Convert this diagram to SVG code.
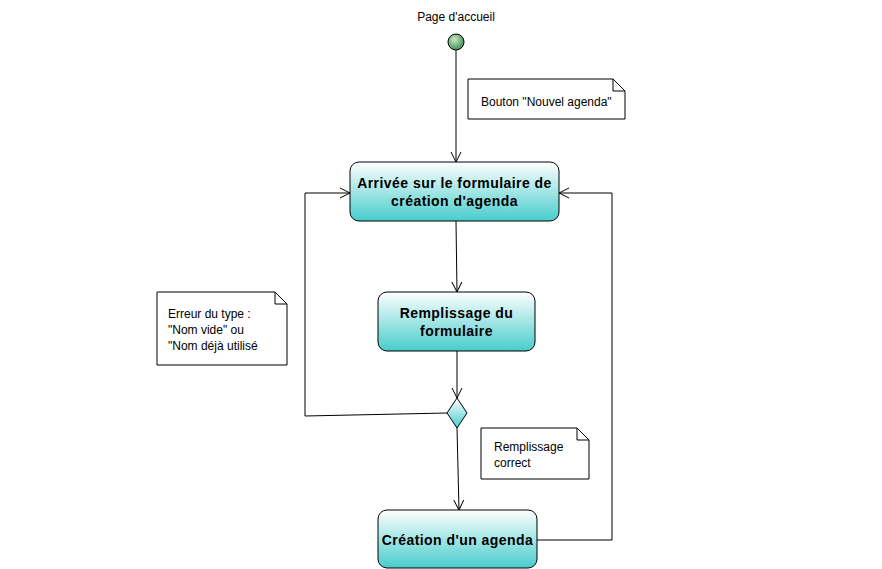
<svg xmlns="http://www.w3.org/2000/svg" width="882" height="569" viewBox="0 0 882 569">
<defs>
<linearGradient id="g" x1="0" y1="0" x2="0" y2="1">
<stop offset="0" stop-color="#ffffff"/>
<stop offset="1" stop-color="#48cccc"/>
</linearGradient>
<radialGradient id="gi" cx="0.4" cy="0.35" r="0.7">
<stop offset="0" stop-color="#c8e8c8"/>
<stop offset="1" stop-color="#3c8a50"/>
</radialGradient>
<marker id="arr" markerWidth="12" markerHeight="12" refX="10" refY="6" orient="auto" markerUnits="userSpaceOnUse">
<path d="M0,1 L10,6 L0,11" fill="none" stroke="#000" stroke-width="1"/>
</marker>
</defs>
<style>
.act{fill:url(#g);stroke:#000;stroke-width:1}
.at{font-family:"Liberation Sans",Arial,sans-serif;font-size:14px;font-weight:bold;letter-spacing:0.45px;text-anchor:middle;fill:#000}
.note{fill:#fff;stroke:#000;stroke-width:1}
.nt{font-family:"Liberation Sans",Arial,sans-serif;font-size:12px;fill:#000}
.c{fill:none;stroke:#000;stroke-width:1}
</style>
<rect width="882" height="569" fill="#fff"/>
<g id="start">
<text class="nt" x="456" y="21" text-anchor="middle">Page d'accueil</text>
<circle cx="456" cy="42" r="8" fill="url(#gi)" stroke="#000"/>
</g>
<g id="connectors">
<path class="c" d="M456,50 L456,162" marker-end="url(#arr)"/>
<path class="c" d="M456,221 L457,292" marker-end="url(#arr)"/>
<path class="c" d="M457,351 L457,398" marker-end="url(#arr)"/>
<path class="c" d="M447,413 L305,416 L305,193 L350,193" marker-end="url(#arr)"/>
<path class="c" d="M457,428 L459,510" marker-end="url(#arr)"/>
<path class="c" d="M537,540 L612,540 L612,193 L559,193" marker-end="url(#arr)"/>
</g>
<g id="n1">
<rect class="act" x="350" y="162" width="209" height="59" rx="9"/>
<text class="at" x="454.5" y="188">Arrivée sur le formulaire de</text>
<text class="at" x="454.5" y="206">création d'agenda</text>
</g>
<g id="n2">
<rect class="act" x="378" y="292" width="157" height="59" rx="9"/>
<text class="at" x="456.5" y="318">Remplissage du</text>
<text class="at" x="456.5" y="336">formulaire</text>
</g>
<g id="decision">
<path d="M457,398 L467,413 L457,428 L447,413 Z" fill="url(#g)" stroke="#000"/>
</g>
<g id="n3">
<rect class="act" x="378" y="510" width="159" height="58" rx="9"/>
<text class="at" x="457.5" y="545">Création d'un agenda</text>
</g>
<g id="note1">
<path class="note" d="M468,79 L613,79 L625,91 L625,119 L468,119 Z"/>
<path class="c" d="M613,79 L613,91 L625,91"/>
<text class="nt" x="481" y="106">Bouton "Nouvel agenda"</text>
</g>
<g id="note2">
<path class="note" d="M157,292 L275,292 L287,304 L287,365 L157,365 Z"/>
<path class="c" d="M275,292 L275,304 L287,304"/>
<text class="nt" x="168" y="318">Erreur du type :</text>
<text class="nt" x="168" y="334">"Nom vide" ou</text>
<text class="nt" x="168" y="350">"Nom déjà utilisé</text>
</g>
<g id="note3">
<path class="note" d="M481,428 L577,428 L589,440 L589,479 L481,479 Z"/>
<path class="c" d="M577,428 L577,440 L589,440"/>
<text class="nt" x="494" y="451">Remplissage</text>
<text class="nt" x="494" y="467">correct</text>
</g>
</svg>
